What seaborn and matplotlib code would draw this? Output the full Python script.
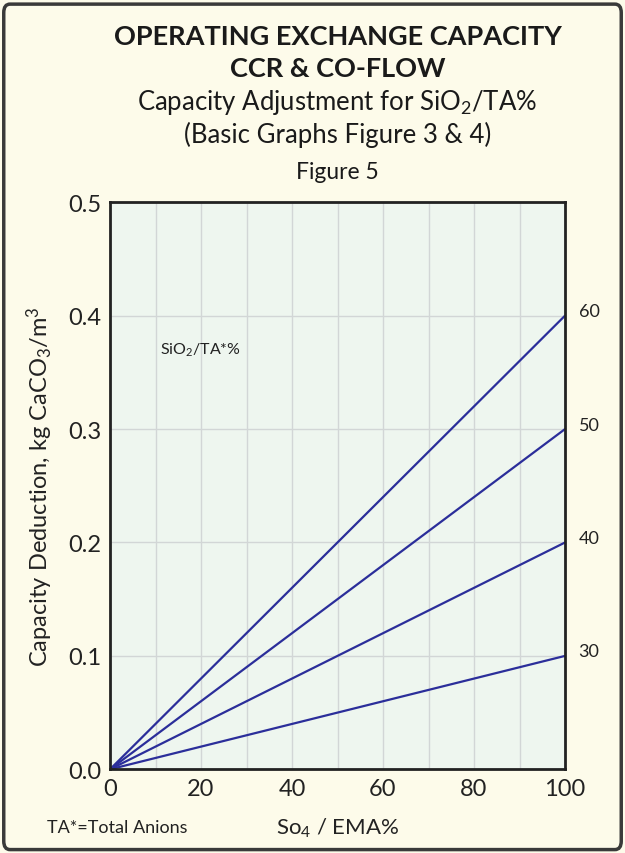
import numpy as np
import pandas as pd
import seaborn as sns
import matplotlib.pyplot as plt
from matplotlib.patches import FancyBboxPatch

# data
so4_ema = [0, 100]
sio2_ta = [30, 40, 50, 60]
deduction_at_100 = [0.1, 0.2, 0.3, 0.4]

x_ticks = [0, 20, 40, 60, 80, 100]
y_ticks = [0.0, 0.1, 0.2, 0.3, 0.4, 0.5]

rows = []
for s, d in zip(sio2_ta, deduction_at_100):
    rows.append({"so4": so4_ema[0], "ded": 0.0, "sio2": s})
    rows.append({"so4": so4_ema[1], "ded": d, "sio2": s})
df = pd.DataFrame(rows)

sns.set_style("white")
plt.rcParams["font.family"] = ["Lato", "DejaVu Sans"]
plt.rcParams["mathtext.fontset"] = "custom"
plt.rcParams["mathtext.rm"] = "Lato"
plt.rcParams["mathtext.it"] = "Lato"

bg = "#fdfbea"
ink = "#222222"
fig = plt.figure(figsize=(6.25, 8.54), dpi=100, facecolor=bg)
border = FancyBboxPatch((0.006, 0.004), 0.988, 0.99, boxstyle="round,pad=0,rounding_size=0.01",
                        transform=fig.transFigure, facecolor="none", edgecolor="#3a3a3a",
                        linewidth=2.5, zorder=10)
fig.patches.append(border)

ax = fig.add_axes([0.176, 0.098, 0.728, 0.664])
ax.set_facecolor("#eef6ef")

sns.lineplot(data=df, x="so4", y="ded", units="sio2", estimator=None,
             color="#2b2e9a", linewidth=1.6, ax=ax, legend=False)

ax.set_xlim(0, 100)
ax.set_ylim(0, 0.5)
ax.set_xticks(x_ticks)
ax.set_yticks(y_ticks)
ax.set_xticklabels([str(t) for t in x_ticks], fontsize=17, color=ink)
ax.set_yticklabels([f"{t:.1f}" for t in y_ticks], fontsize=17, color=ink)
ax.set_xticks(np.arange(10, 100, 10), minor=True)
ax.grid(which="both", axis="x", color="#d2d6d6", linewidth=1)
ax.grid(which="major", axis="y", color="#d2d6d6", linewidth=1)
ax.tick_params(which="both", length=0, pad=6)
for sp in ax.spines.values():
    sp.set_color(ink)
    sp.set_linewidth(2)

for s, d in zip(sio2_ta, deduction_at_100):
    ax.text(103, d + 0.004, str(s), fontsize=13, color=ink, va="center", ha="left", clip_on=False)

ax.text(11, 0.37, r"SiO$_2$/TA*%", fontsize=11.5, color=ink, va="center")

ax.set_ylabel(r"Capacity Deduction, kg CaCO$_3$/m$^3$", fontsize=17, color=ink, labelpad=10)
ax.set_xlabel(r"So$_4$ / EMA%", fontsize=16, color=ink, labelpad=12)
fig.text(0.075, 0.031, "TA*=Total Anions", fontsize=13, color=ink, ha="left", va="center")

fig.text(0.54, 0.957, "OPERATING EXCHANGE CAPACITY", fontsize=19.5, fontweight="bold",
         ha="center", va="center", color="#1a1a1a")
fig.text(0.54, 0.919, "CCR & CO-FLOW", fontsize=19.5, fontweight="bold",
         ha="center", va="center", color="#1a1a1a")
fig.text(0.54, 0.880, r"Capacity Adjustment for SiO$_2$/TA%", fontsize=18.5,
         ha="center", va="center", color="#1a1a1a")
fig.text(0.54, 0.842, "(Basic Graphs Figure 3 & 4)", fontsize=18.5,
         ha="center", va="center", color="#1a1a1a")
fig.text(0.54, 0.798, "Figure 5", fontsize=16.5, ha="center", va="center", color="#1a1a1a")

fig.savefig("out.png", dpi=100, facecolor=bg)
plt.close(fig)
